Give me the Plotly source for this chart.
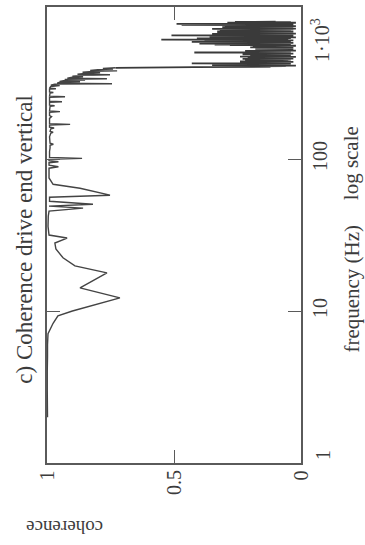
import numpy as np
import plotly.graph_objects as go

# Coherence spectrum, drive end vertical (frequency in Hz, coherence 0..1)
low_freq_hz = [2, 3, 4, 5, 6, 7.1, 8.3, 9.3, 10.0, 12.2, 14.2, 17.8, 19.8, 22.4,
               25.6, 28.0, 30.2, 31.6, 36, 42, 45.4, 47.5, 49, 50.4, 52.7, 56,
               57.8, 64.2, 68.2, 75, 87, 89, 91, 94.5, 96, 97.5, 99.5, 101,
               102.5]
low_coherence = [0.998, 0.999, 0.999, 0.998, 0.998, 0.996, 0.976, 0.957, 0.900,
                 0.713, 0.870, 0.764, 0.890, 0.937, 0.965, 0.969, 0.921, 0.992,
                 0.996, 0.995, 0.992, 0.858, 0.992, 0.819, 0.990, 0.990, 0.752,
                 0.870, 0.976, 0.992, 0.992, 0.955, 0.992, 0.992, 0.955, 0.992,
                 0.992, 0.862, 0.990]

mid_freq_hz = [112, 118, 123, 125, 127, 140, 148, 150, 152, 158, 160, 162, 167,
               169, 171, 185, 190, 193, 203, 205, 207, 222, 224, 226, 236, 238,
               240, 255, 257, 259, 272, 274, 276, 288, 290, 292, 300, 304, 306,
               311, 313, 315, 320, 322, 324, 329, 331, 334, 337, 340, 345, 348,
               351, 355, 358, 361, 366, 369, 372, 377, 380, 383, 387, 390, 394,
               398]
mid_coherence = [0.990, 0.988, 0.988, 0.975, 0.988, 0.990, 0.985, 0.976, 0.988,
                 0.985, 0.972, 0.990, 0.990, 0.909, 0.990, 0.990, 0.982, 0.990,
                 0.990, 0.949, 0.990, 0.988, 0.970, 0.990, 0.990, 0.941, 0.990,
                 0.990, 0.929, 0.990, 0.988, 0.975, 0.990, 0.990, 0.965, 0.990,
                 0.985, 0.950, 0.985, 0.970, 0.744, 0.960, 0.950, 0.870, 0.950,
                 0.930, 0.850, 0.930, 0.764, 0.920, 0.900, 0.858, 0.900, 0.860,
                 0.752, 0.880, 0.850, 0.791, 0.860, 0.820, 0.724, 0.830, 0.800,
                 0.740, 0.780, 0.730]

# Above ~400 Hz the coherence breaks up; bins every 2 Hz from 402 Hz
noise_start_hz = 402
noise_bin_hz = 2
noise_coherence = [
    0.42, 0.12, 0.30, 0.06, 0.22, 0.02, 0.35, 0.09, 0.18, 0.05,
    0.26, 0.04, 0.43, 0.10, 0.20, 0.06, 0.15, 0.03, 0.24, 0.08,
    0.19, 0.05, 0.22, 0.11, 0.04, 0.17, 0.07, 0.23, 0.03, 0.14,
    0.09, 0.21, 0.05, 0.16, 0.02, 0.24, 0.08, 0.13, 0.06, 0.20,
    0.04, 0.18, 0.10, 0.23, 0.05, 0.15, 0.03, 0.21, 0.07, 0.12,
    0.42, 0.06, 0.19, 0.04, 0.14, 0.09, 0.22, 0.02, 0.17, 0.08,
    0.16, 0.05, 0.12, 0.03, 0.18, 0.07, 0.10, 0.04, 0.15, 0.06,
    0.20, 0.03, 0.13, 0.08, 0.17, 0.05, 0.11, 0.02, 0.19, 0.06,
    0.28, 0.05, 0.34, 0.09, 0.25, 0.04, 0.40, 0.07, 0.30, 0.03,
    0.36, 0.10, 0.27, 0.05, 0.43, 0.08, 0.32, 0.04, 0.26, 0.06,
    0.38, 0.03, 0.29, 0.11, 0.55, 0.07, 0.34, 0.05, 0.24, 0.09,
    0.41, 0.04, 0.31, 0.08, 0.27, 0.02, 0.36, 0.06, 0.22, 0.10,
    0.33, 0.05, 0.28, 0.03, 0.51, 0.07, 0.25, 0.04, 0.30, 0.08,
    0.29, 0.06, 0.35, 0.02, 0.26, 0.09, 0.31, 0.05, 0.23, 0.04,
    0.33, 0.07, 0.28, 0.03, 0.33, 0.06, 0.25, 0.10, 0.30, 0.04,
    0.27, 0.05, 0.32, 0.08, 0.24, 0.03, 0.29, 0.06, 0.35, 0.02,
    0.26, 0.07, 0.30, 0.04, 0.23, 0.09, 0.28, 0.05, 0.31, 0.03,
    0.25, 0.06, 0.29, 0.02, 0.27, 0.08, 0.24, 0.04, 0.30, 0.05,
    0.47, 0.07, 0.26, 0.03, 0.28, 0.06, 0.49, 0.04, 0.25, 0.08,
    0.27, 0.05, 0.23, 0.02, 0.29, 0.06, 0.24, 0.04, 0.26, 0.10,
]
noise_freq_hz = noise_start_hz + noise_bin_hz * np.arange(len(noise_coherence))

smooth_freq_hz = low_freq_hz + mid_freq_hz
smooth_coherence = low_coherence + mid_coherence

coherence_ticks = [0, 0.5, 1]
coherence_tick_text = ["0", "0.5", "1"]
freq_ticks = [10, 100]
freq_tick_text = ["10", "100"]

INK = "#3c3c3c"
FRAME = "#5a5a5a"
CURVE = "#444444"
SERIF = "Liberation Serif, Times New Roman, serif"

fig = go.Figure()
fig.add_trace(go.Scatter(
    x=smooth_coherence, y=smooth_freq_hz, mode="lines",
    line=dict(color=CURVE, width=1.4, simplify=False), hoverinfo="skip",
))
# broadband region drawn with a slightly heavier pen, joined to the curve
fig.add_trace(go.Scatter(
    x=[smooth_coherence[-1]] + noise_coherence,
    y=[smooth_freq_hz[-1]] + list(noise_freq_hz),
    mode="lines", line=dict(color="#3a3a3a", width=1.8, simplify=False),
    hoverinfo="skip",
))

fig.update_layout(
    width=365,
    height=545,
    margin=dict(l=47, r=64, t=5, b=82),
    paper_bgcolor="white",
    plot_bgcolor="white",
    showlegend=False,
    font=dict(family=SERIF, color=INK),
)

axis_style = dict(
    ticks="inside", ticklen=13, tickwidth=1.3, tickcolor=FRAME,
    showline=True, linecolor=FRAME, linewidth=1.5, mirror="ticks",
    showgrid=False, zeroline=False,
)

# coherence labels are placed as rotated text beneath the frame
fig.update_xaxes(range=[1.0, 0.0], tickvals=coherence_ticks,
                 showticklabels=False, **axis_style)

fig.update_yaxes(
    type="log", range=[0, 3], side="right",
    tickvals=freq_ticks, ticktext=freq_tick_text, tickangle=-90,
    tickfont=dict(size=20, family=SERIF, color=INK),
    **axis_style,
)

def label(text, x, y, size, angle, xref="paper", yanchor="middle"):
    fig.add_annotation(
        text=text, x=x, y=y, xref=xref, yref="paper",
        xanchor="center", yanchor=yanchor, showarrow=False,
        textangle=angle, font=dict(size=size, family=SERIF, color=INK),
    )

for value, text in zip(coherence_ticks, coherence_tick_text):
    label(text, value, -0.012, 20, -90, xref="x", yanchor="top")

label("c) Coherence drive end vertical", -0.09, 0.49, 23, -90)
label("1", 1.087, 0.0175, 20, -90)
label("1·10<sup>3</sup>", 1.075, 0.928, 20, -90)
label("frequency (Hz)", 1.2, 0.382, 21, -90)
label("log scale", 1.2, 0.657, 21, -90)
label("coherence", 0.071, -0.143, 19, 180)

fig.write_html("out.html")
